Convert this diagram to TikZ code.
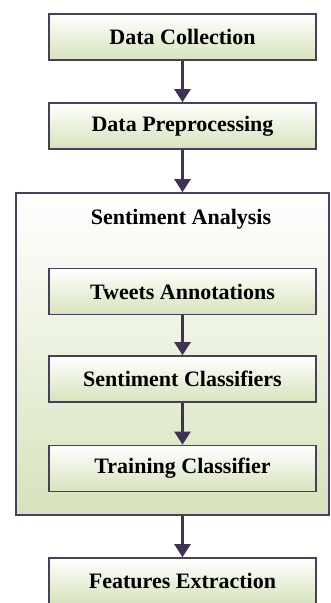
\documentclass[tikz,border=0pt]{standalone}
\usepackage{fontspec}
\setmainfont{Liberation Serif}
\usetikzlibrary{arrows.meta}
\definecolor{edgec}{RGB}{74,62,94}
\definecolor{arrc}{RGB}{64,50,84}
\definecolor{greenc}{RGB}{214,227,188}
\tikzset{
  stepbox/.style={draw=edgec, line width=1.6pt, top color=white, bottom color=greenc,
    minimum width=267pt, minimum height=46pt, inner sep=0pt,
    font=\fontsize{22}{24}\selectfont\bfseries, text=black},
  groupbox/.style={draw=edgec, line width=1.6pt, top color=white, bottom color=greenc,
    minimum width=313pt, minimum height=322pt, inner sep=0pt},
  flow/.style={draw=arrc, line width=2.2pt, -{Triangle[width=16pt,length=13pt]}},
  titletext/.style={font=\fontsize{22}{24}\selectfont\bfseries, text=black, inner sep=0pt}
}
\begin{document}
\begin{tikzpicture}[x=1pt,y=-1pt]
\useasboundingbox (0,0) rectangle (330,603);
\begin{scope}
\clip (0,0) rectangle (330,603);
\node[stepbox] (dc) at (182.5,37) {Data Collection};
\node[stepbox] (dp) at (182.5,126) {Data Preprocessing};
\node[groupbox] (sa) at (172.5,354) {};
\node[titletext] (sat) at (181,219) {Sentiment Analysis};
\node[stepbox] (ta) at (182.5,291.5) {Tweets Annotations};
\node[stepbox] (sc) at (182.5,379) {Sentiment Classifiers};
\node[stepbox] (tc) at (182.5,468.5) {Training Classifier};
\node[stepbox] (fe) at (182.5,581) {Features Extraction};
\draw[flow] (dc.south) -- (dp.north);
\draw[flow] (dp.south) -- (dp.south |- sa.north);
\draw[flow] (ta.south) -- (sc.north);
\draw[flow] (sc.south) -- (tc.north);
\draw[flow] (tc.south |- sa.south) -- (fe.north);
\end{scope}
\end{tikzpicture}
\end{document}
